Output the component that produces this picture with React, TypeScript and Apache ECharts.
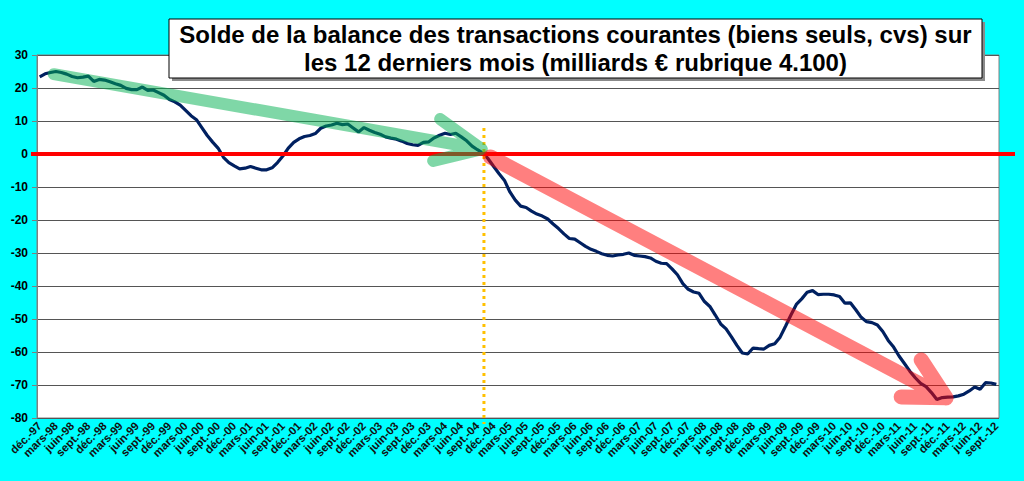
import React, { useEffect, useRef } from "react";
import * as echarts from "echarts";

// French month abbreviations used on the category axis
const MONTHS = ["janv.", "févr.", "mars", "avr.", "mai", "juin", "juil.", "août", "sept.", "oct.", "nov.", "déc."];
const START_YEAR = 1997;
const START_MONTH = 11; // December

// Solde sur 12 mois (milliards €), monthly from déc.-97 to sept.-12
const VALUES = [
  23.4, 24.3, 24.7, 25.0, 24.7, 24.2, 23.5, 23.1, 23.3, 23.6,
  22.0, 22.6, 22.4, 21.9, 21.3, 20.8, 19.9, 19.5, 19.5, 20.3,
  19.3, 19.4, 18.6, 17.8, 16.5, 15.8, 14.8, 13.2, 11.6, 10.4,
  8.0, 5.6, 3.6, 1.8, -1.0, -2.6, -3.6, -4.5, -4.3, -3.8,
  -4.3, -4.8, -4.8, -4.2, -2.6, -0.6, 1.8, 3.5, 4.6, 5.3,
  5.6, 6.2, 7.8, 8.5, 8.8, 9.3, 8.9, 9.1, 7.9, 6.7,
  8.0, 7.2, 6.5, 6.0, 5.2, 4.8, 4.5, 3.9, 3.2, 2.8,
  2.6, 3.5, 3.7, 4.9, 5.7, 6.3, 5.9, 6.3, 5.2, 4.0,
  2.4, 1.3, 0.3, -1.5, -3.8, -6.0, -8.0, -11.5, -14.0, -15.8,
  -16.2, -17.3, -18.2, -18.8, -19.7, -21.2, -22.6, -24.2, -25.6, -25.8,
  -26.9, -28.0, -28.9, -29.5, -30.2, -30.7, -30.9, -30.6, -30.4, -30.0,
  -30.7, -30.9, -31.1, -31.5, -32.5, -33.1, -33.2, -34.8, -36.6, -39.3,
  -41.0, -41.8, -42.2, -44.7, -46.2, -48.8, -51.5, -53.0, -55.4, -58.0,
  -60.3, -60.6, -58.8, -59.0, -59.1, -58.0, -57.5, -55.5, -52.2, -48.8,
  -45.6, -43.9, -41.9, -41.4, -42.6, -42.5, -42.5, -42.7, -43.2, -45.2,
  -45.1, -47.2, -49.5, -50.8, -51.1, -51.8, -53.8, -56.5, -58.5, -61.2,
  -63.5, -65.8, -67.8, -69.5, -70.5, -72.3, -74.4, -73.8, -73.7, -73.6,
  -73.3, -72.8, -71.8, -70.6, -71.3, -69.3, -69.4, -69.8,
];

const CATEGORIES = VALUES.map((_, k) => {
  const m = (START_MONTH + k) % 12;
  const y = START_YEAR + Math.floor((START_MONTH + k) / 12);
  return `${MONTHS[m]}-${String(y % 100).padStart(2, "0")}`;
});

const Y_MIN = -80;
const Y_MAX = 30;
const Y_STEP = 10;

const TITLE_LINES = [
  "Solde de la balance des transactions courantes (biens seuls, cvs) sur",
  "les 12 derniers mois (milliards € rubrique 4.100)",
];

// Annotation arrows in data coordinates [category index, value]
const GREEN_ARROW = { start: [2.6, 24.2], tip: [81.8, 1.5], wingA: [74.1, 10.6], wingB: [72.8, -2.1] };
const RED_ARROW = { start: [83.4, -0.9], tip: [167.7, -73.9], wingA: [163.1, -62.4], wingB: [159.4, -73.6] };
const MARKER = { index: 82.2, top: 7.9, bottom: -81.8 };

const FONT = '"Liberation Sans", Arial, Helvetica, sans-serif';

export default function App() {
  const ref = useRef<HTMLDivElement>(null);

  useEffect(() => {
    if (!ref.current) return;
    const chart = echarts.init(ref.current, undefined, { renderer: "svg" });
    chart.setOption({
      animation: false,
      backgroundColor: "#00FFFF",
      grid: {
        left: 37,
        right: 25,
        top: 55,
        bottom: 63,
        show: true,
        backgroundColor: "#FFFFFF",
        borderColor: "#808080",
        borderWidth: 1,
      },
      xAxis: {
        type: "category",
        data: CATEGORIES,
        boundaryGap: true,
        axisLine: { lineStyle: { color: "#222", width: 1 } },
        axisTick: { interval: 2, length: 4, lineStyle: { color: "#222" } },
        axisLabel: {
          interval: 2,
          rotate: 45,
          margin: 6,
          color: "#111",
          fontSize: 11.4,
          fontWeight: "bold",
          fontFamily: FONT,
          hideOverlap: false,
        },
        splitLine: { show: false },
      },
      yAxis: {
        type: "value",
        min: Y_MIN,
        max: Y_MAX,
        interval: Y_STEP,
        axisLine: { show: true, lineStyle: { color: "#808080" } },
        axisTick: { show: true, length: 5, lineStyle: { color: "#808080" } },
        axisLabel: {
          color: "#000",
          fontSize: 12,
          fontWeight: "bold",
          fontFamily: FONT,
          margin: 9,
        },
        splitLine: { show: true, lineStyle: { color: "#555", width: 1 } },
      },
      series: [
        {
          type: "line",
          data: VALUES,
          symbol: "none",
          smooth: false,
          lineStyle: { color: "#002060", width: 3.2 },
          z: 2,
        },
      ],
    });

    const toPx = (p: number[]) => {
      const a = Math.floor(p[0]);
      const f = p[0] - a;
      const p0 = chart.convertToPixel({ gridIndex: 0 }, [a, p[1]]) as number[];
      const p1 = chart.convertToPixel({ gridIndex: 0 }, [a + 1, p[1]]) as number[];
      return [p0[0] + f * (p1[0] - p0[0]), p0[1]];
    };

    const arrow = (def: typeof GREEN_ARROW, color: string, width: number) => ({
      type: "polyline",
      z: 50,
      silent: true,
      shape: {
        points: [toPx(def.start), toPx(def.tip), toPx(def.wingA), toPx(def.tip), toPx(def.wingB)],
      },
      style: { stroke: color, lineWidth: width, fill: null, lineCap: "round", lineJoin: "round" },
    });

    const zeroY = toPx([0, 0])[1];
    const mTop = toPx([MARKER.index, MARKER.top]);
    const mBot = toPx([MARKER.index, MARKER.bottom]);

    const boxX = 169, boxY = 19, boxW = 813, boxH = 59;
    const cx = boxX + boxW / 2;

    chart.setOption({
      graphic: {
        elements: [
          {
            type: "line",
            z: 40,
            silent: true,
            shape: { x1: 31, y1: zeroY, x2: 1015, y2: zeroY },
            style: { stroke: "#FF0000", lineWidth: 4 },
          },
          {
            type: "line",
            z: 41,
            silent: true,
            shape: { x1: mTop[0], y1: mTop[1], x2: mBot[0], y2: mBot[1] },
            style: { stroke: "#FFC000", lineWidth: 3, lineDash: [3, 4] },
          },
          arrow(GREEN_ARROW, "rgba(0,176,80,0.5)", 12),
          arrow(RED_ARROW, "rgba(255,0,0,0.5)", 15),
          {
            type: "rect",
            z: 60,
            silent: true,
            shape: { x: boxX + 3, y: boxY + 3, width: boxW, height: boxH },
            style: { fill: "#8a8a8a" },
          },
          {
            type: "rect",
            z: 61,
            silent: true,
            shape: { x: boxX, y: boxY, width: boxW, height: boxH },
            style: { fill: "#FFFFFF", stroke: "#000", lineWidth: 1 },
          },
          ...TITLE_LINES.map((t, k) => ({
            type: "text",
            z: 62,
            silent: true,
            style: {
              text: t,
              x: cx,
              y: boxY + 15 + k * 28,
              fill: "#000",
              font: `bold 24px ${FONT}`,
              align: "center",
              textAlign: "center",
              verticalAlign: "middle",
              textVerticalAlign: "middle",
            },
          })),
        ],
      },
    });

    return () => chart.dispose();
  }, []);

  return (
    <div
      ref={ref}
      style={{ position: "fixed", left: 0, top: 0, width: 1024, height: 481 }}
    />
  );
}
